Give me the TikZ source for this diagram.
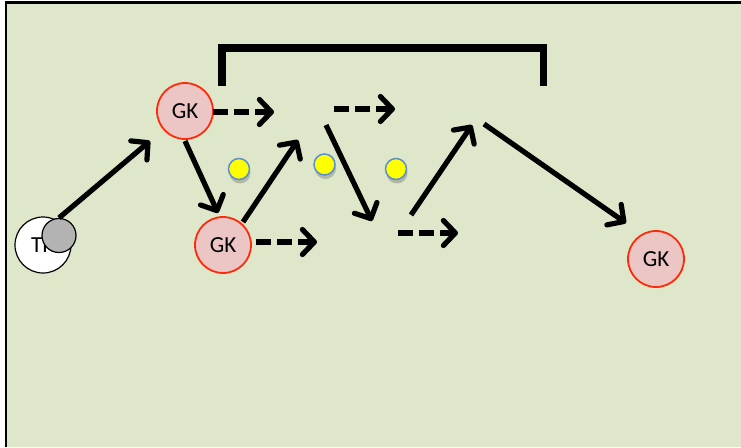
\documentclass[tikz,border=0pt]{standalone}
\usepackage{fontspec}
\setmainfont{Carlito}
\usetikzlibrary{arrows.meta,shadows}
\definecolor{pitch}{HTML}{DFE7CA}
\definecolor{gkfill}{HTML}{ECC6C4}
\definecolor{gkline}{HTML}{FF2A0A}
\definecolor{ballfill}{HTML}{FFFF00}
\definecolor{ballline}{HTML}{5B8FD0}
\definecolor{cone}{HTML}{B3B3B3}
\tikzset{
  player/.style={circle, minimum size=56pt, inner sep=0pt, fill=gkfill, draw=gkline, line width=1.8pt, font=\fontsize{23}{26}\selectfont},
  coach/.style={circle, minimum size=56pt, inner sep=0pt, fill=white, draw=black, line width=1.2pt, font=\fontsize{23}{26}\selectfont},
  marker/.style={circle, minimum size=34pt, inner sep=0pt, fill=cone, draw=black, line width=1.2pt},
  ball/.style={circle, minimum size=21pt, inner sep=0pt, fill=ballfill, draw=ballline, line width=1.5pt,
    drop shadow={opacity=0.3, shadow xshift=1pt, shadow yshift=-4pt, fill=black!70}},
  run/.style={line width=5.2pt, -{Straight Barb[length=12pt, width=25pt, line width=5.2pt, round]}},
  pass/.style={run, dash pattern=on 15pt off 6pt},
  goal/.style={line width=7.5pt}
}
\begin{document}
\begin{tikzpicture}[x=1pt, y=-1pt]
  \useasboundingbox (0,0) rectangle (741,447);
  % pitch and its edges
  \fill[white] (0,0) rectangle (741,447);
  \fill[pitch] (6,2) rectangle (741,447);
  \draw[line width=2.5pt] (6,447) -- (6,2.5) -- (741,2.5);
  % goal
  \draw[goal] (222,86) -- (222,48) -- (543.5,48) -- (543.5,86);
  % players
  \node[coach] (tr) at (43,245) {TR};
  \node[marker] (cone) at (59,235.5) {};
  \node[player] (gk1) at (185,111) {GK};
  \node[player] (gk2) at (223,245) {GK};
  \node[player] (gk3) at (656,259) {GK};
  % balls
  \node[ball] (b1) at (239,169) {};
  \node[ball] (b2) at (324.5,164.5) {};
  \node[ball] (b3) at (396,169) {};
  % run and pass end points
  \coordinate (r1) at (150,141);
  \coordinate (r2s) at (185,141);
  \coordinate (r2) at (218,213);
  \coordinate (r3s) at (243,222);
  \coordinate (r3) at (298,140);
  \coordinate (r4s) at (326,125);
  \coordinate (r4) at (372,221);
  \coordinate (r5s) at (411,215);
  \coordinate (r5) at (472,125);
  \coordinate (r6s) at (484,124);
  \coordinate (r6) at (626,223);
  \coordinate (p1s) at (213,112);
  \coordinate (p1) at (274,112);
  \coordinate (p2s) at (256,242);
  \coordinate (p2) at (317,242);
  \coordinate (p3s) at (334,109);
  \coordinate (p3) at (395,109);
  \coordinate (p4s) at (398,233);
  \coordinate (p4) at (458,233);
  % runs
  \draw[run] (cone.north) -- (r1);
  \draw[run] (r2s) -- (r2);
  \draw[run] (r3s) -- (r3);
  \draw[run] (r4s) -- (r4);
  \draw[run] (r5s) -- (r5);
  \draw[run] (r6s) -- (r6);
  % passes
  \draw[pass] (p1s) -- (p1);
  \draw[pass] (p2s) -- (p2);
  \draw[pass] (p3s) -- (p3);
  \draw[pass] (p4s) -- (p4);
\end{tikzpicture}
\end{document}
